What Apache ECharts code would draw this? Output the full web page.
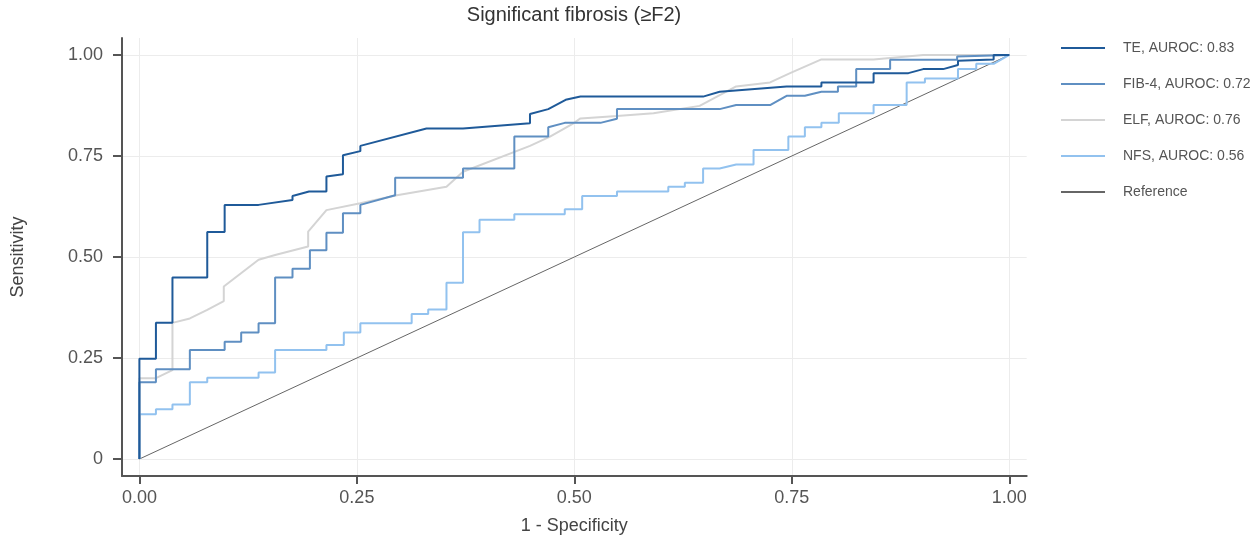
<!DOCTYPE html>
<html>
<head>
<meta charset="utf-8">
<script src="https://cdn.jsdelivr.net/npm/echarts@6/dist/echarts.min.js"></script>
<style>
html,body{margin:0;padding:0;background:#fff;}
#chart{width:1257px;height:541px;}
</style>
</head>
<body>
<div id="chart"></div>
<script>
var xTicks = [0, 0.25, 0.5, 0.75, 1];
var xTickLabels = ['0.00', '0.25', '0.50', '0.75', '1.00'];
var yTicks = [0, 0.25, 0.5, 0.75, 1];
var yTickLabels = ['0', '0.25', '0.50', '0.75', '1.00'];

var seriesNames = ['TE, AUROC: 0.83', 'FIB-4, AUROC: 0.72', 'ELF, AUROC: 0.76', 'NFS, AUROC: 0.56', 'Reference'];

var teX = [0,0,0.019,0.019,0.038,0.038,0.078,0.078,0.098,0.098,0.137,0.176,0.176,0.195,0.215,0.215,0.234,0.234,0.254,0.254,0.330,0.372,0.449,0.449,0.470,0.490,0.507,0.648,0.667,0.744,0.784,0.784,0.844,0.844,0.884,0.901,0.924,0.941,0.941,0.982,0.982,1.0];
var teY = [0,0.248,0.248,0.337,0.337,0.449,0.449,0.562,0.562,0.629,0.629,0.641,0.651,0.662,0.662,0.699,0.705,0.752,0.762,0.775,0.818,0.818,0.831,0.854,0.866,0.889,0.897,0.897,0.909,0.922,0.922,0.932,0.932,0.955,0.955,0.965,0.965,0.975,0.986,0.989,1.0,1.0];

var fibX = [0,0,0.019,0.019,0.058,0.058,0.098,0.098,0.117,0.117,0.137,0.137,0.156,0.156,0.176,0.176,0.196,0.196,0.215,0.215,0.234,0.234,0.254,0.254,0.294,0.294,0.372,0.372,0.431,0.431,0.470,0.470,0.489,0.530,0.549,0.549,0.667,0.686,0.725,0.744,0.765,0.784,0.803,0.803,0.824,0.824,0.863,0.863,0.940,0.940,1.0];
var fibY = [0,0.190,0.190,0.222,0.222,0.270,0.270,0.290,0.290,0.313,0.313,0.336,0.336,0.449,0.449,0.471,0.471,0.517,0.517,0.560,0.560,0.608,0.608,0.629,0.653,0.696,0.696,0.719,0.719,0.798,0.798,0.821,0.832,0.832,0.842,0.866,0.866,0.876,0.876,0.899,0.899,0.909,0.909,0.922,0.922,0.965,0.965,0.988,0.988,0.996,1.0];

var elfX = [0,0,0.019,0.038,0.038,0.058,0.078,0.097,0.097,0.137,0.156,0.194,0.194,0.215,0.254,0.296,0.353,0.372,0.449,0.472,0.499,0.507,0.549,0.591,0.644,0.686,0.725,0.748,0.784,0.844,0.901,1.0];
var elfY = [0,0.200,0.200,0.220,0.337,0.348,0.369,0.391,0.427,0.493,0.505,0.526,0.563,0.616,0.633,0.653,0.674,0.711,0.775,0.798,0.831,0.843,0.849,0.856,0.874,0.922,0.932,0.955,0.989,0.989,1.0,1.0];

var nfsX = [0,0,0.019,0.019,0.038,0.038,0.058,0.058,0.078,0.078,0.137,0.137,0.156,0.156,0.215,0.215,0.235,0.235,0.254,0.254,0.313,0.313,0.332,0.332,0.353,0.353,0.372,0.372,0.391,0.391,0.431,0.431,0.489,0.489,0.509,0.509,0.549,0.549,0.608,0.608,0.627,0.627,0.648,0.648,0.667,0.686,0.706,0.706,0.746,0.746,0.765,0.765,0.784,0.784,0.804,0.804,0.844,0.844,0.882,0.882,0.903,0.903,0.941,0.941,0.962,0.962,0.982,1.0];
var nfsY = [0,0.111,0.111,0.123,0.123,0.135,0.135,0.190,0.190,0.201,0.201,0.214,0.214,0.270,0.270,0.282,0.282,0.313,0.313,0.336,0.336,0.359,0.359,0.370,0.370,0.436,0.436,0.561,0.561,0.592,0.592,0.606,0.606,0.618,0.618,0.651,0.651,0.662,0.662,0.674,0.674,0.684,0.684,0.719,0.719,0.729,0.729,0.765,0.765,0.798,0.798,0.821,0.821,0.832,0.832,0.856,0.856,0.876,0.876,0.932,0.932,0.942,0.942,0.965,0.965,0.978,0.978,1.0];

var refX = [0, 1];
var refY = [0, 1];

function zip(xs, ys) { return xs.map(function (x, i) { return [x, ys[i]]; }); }

var colors = ['#1f5a99', '#5f8fc2', '#d4d4d4', '#92c2ef', '#666666'];
var widths = [2, 2, 2, 2, 1];
var datasets = [zip(teX, teY), zip(fibX, fibY), zip(elfX, elfY), zip(nfsX, nfsY), zip(refX, refY)];

var chart = echarts.init(document.getElementById('chart'), null, {renderer: 'canvas'});
var font = 'Liberation Sans, Arial, sans-serif';

var option = {
  animation: false,
  backgroundColor: '#ffffff',
  title: {
    text: 'Significant fibrosis (\u2265F2)',
    left: 574, top: 5, textAlign: 'center', padding: 0,
    textStyle: {fontFamily: font, fontSize: 20, fontWeight: 'normal', color: '#333333'}
  },
  legend: {
    orient: 'vertical', left: 1056, top: 36, itemGap: 22,
    itemWidth: 44, itemHeight: 2, icon: 'rect',
    data: seriesNames,
    textStyle: {fontFamily: font, fontSize: 14, color: '#555555', padding: [0, 0, 0, 13]}
  },
  grid: {left: 122, right: 230.3, top: 38, bottom: 65, containLabel: false},
  xAxis: {
    type: 'value', min: -0.02, max: 1.02,
    name: '1 - Specificity', nameLocation: 'middle', nameGap: 41,
    nameTextStyle: {fontFamily: font, fontSize: 18, color: '#444444'},
    axisLine: {onZero: false, lineStyle: {color: '#555555', width: 2}},
    axisTick: {show: true, inside: false, length: 8, customValues: xTicks, lineStyle: {color: '#555555', width: 2}},
    axisLabel: {customValues: xTicks, margin: 13, fontFamily: font, fontSize: 18, color: '#555555',
      formatter: function (v) { var i = xTicks.indexOf(v); return i >= 0 ? xTickLabels[i] : ''; }},
    splitLine: {show: true, lineStyle: {color: '#ececec', width: 1}}
  },
  yAxis: {
    type: 'value', min: -0.042, max: 1.042,
    name: 'Sensitivity', nameLocation: 'middle', nameGap: 95, nameRotate: 90,
    nameTextStyle: {fontFamily: font, fontSize: 18, color: '#444444'},
    axisLine: {show: true, onZero: false, lineStyle: {color: '#555555', width: 2}},
    axisTick: {show: true, inside: false, length: 9, customValues: yTicks, lineStyle: {color: '#555555', width: 2}},
    axisLabel: {customValues: yTicks, margin: 19, fontFamily: font, fontSize: 18, color: '#555555',
      formatter: function (v) { var i = yTicks.indexOf(v); return i >= 0 ? yTickLabels[i] : ''; }},
    splitLine: {show: true, lineStyle: {color: '#ececec', width: 1}}
  },
  series: seriesNames.map(function (name, i) {
    return {
      name: name, type: 'line', data: datasets[i], showSymbol: false, symbol: 'none',
      color: colors[i], z: 10 - i,
      lineStyle: {color: colors[i], width: widths[i]},
      emphasis: {disabled: true}
    };
  })
};
chart.setOption(option);
</script>
</body>
</html>
